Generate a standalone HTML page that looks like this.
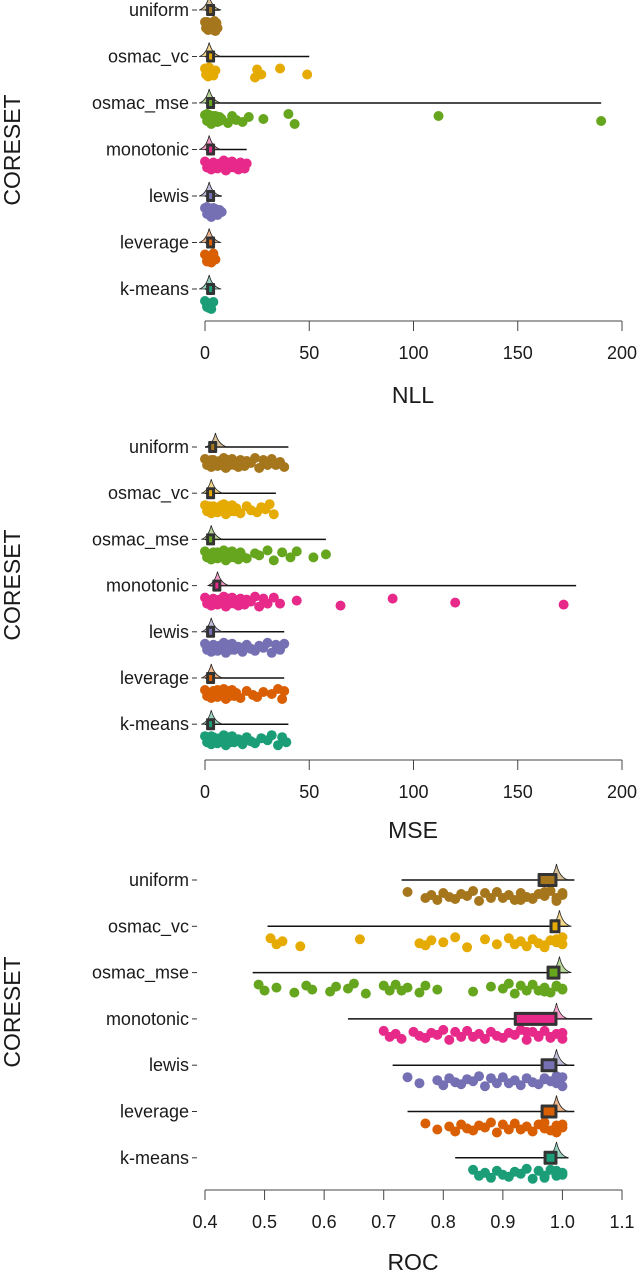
<!DOCTYPE html>
<html><head><meta charset="utf-8">
<style>
body{margin:0;background:#fff;}
svg{display:block;font-family:"Liberation Sans",Arial,sans-serif;}
</style></head>
<body>
<svg id="chart" width="640" height="1274" viewBox="0 0 640 1274"></svg>
<script>
const categories=["uniform","osmac_vc","osmac_mse","monotonic","lewis","leverage","k-means"];
const colors=["#a6761d","#e6ab02","#66a61e","#e7298a","#7570b3","#d95f02","#1b9e77"];
const nllTicks=[0,50,100,150,200];
const mseTicks=[0,50,100,150,200];
const rocTicks=[0.4,0.5,0.6,0.7,0.8,0.9,1.0,1.1];
const rocTickLabels=["0.4","0.5","0.6","0.7","0.8","0.9","1.0","1.1"];
// NLL points
const nllPts=[
 [0,0.5,1,1.5,2,2.5,3,3.5,4,4.5,5,5.5,6,1,2,3,4,0.5,1.5,2.5],
 [0,0.5,1,1.5,2,3,4,5,1,2,24,25,27,36,49],
 [0,1,2,3,4,5,6,7,8,1,3,5,7,2,4,6,11,13,15,18,21,28,40,43,112,190],
 [0,1,2,3,4,5,6,7,8,9,10,11,12,13,14,15,16,17,18,19,20],
 [0,1,2,3,4,5,6,7,8,1,3,5,2,4],
 [0,1,2,3,4,5,1,2,3,4],
 [0,1,2,3,4,1,2,3]];
const nllBox=[[0,1,2,7],[0,1,2,50],[0,1,2,190],[0,1,2,20],[0,1,2,8],[0,1,2,5],[0,1,2,4]];
// MSE points
const msePts=[
 [0,1,2,3,4,5,6,7,8,9,10,11,12,13,14,15,16,17,18,19,20,22,24,26,28,30,32,34,36,38,3,6,9],
 [0,1,2,3,4,5,6,7,8,9,10,11,12,13,14,15,17,20,22,25,27,29,31,33,2,5,8],
 [0,1,2,3,4,5,6,7,8,9,10,11,12,13,14,15,16,17,18,20,24,26,30,33,37,41,44,52,58,3,6],
 [0,1,2,3,4,5,6,7,8,9,10,11,12,13,14,15,16,17,18,19,20,22,24,26,28,30,33,36,44,65,90,120,172],
 [0,1,2,3,4,5,6,7,8,9,10,11,12,13,14,16,18,20,22,24,26,28,30,32,34,36,38,4,8],
 [0,1,2,3,4,5,6,7,8,9,10,11,12,13,14,15,17,20,23,25,28,32,35,37,38,3,6],
 [0,1,2,3,4,5,6,7,8,9,10,11,12,13,14,16,18,20,22,24,27,30,32,35,37,39,3,6]];
const mseBox=[[0,2,5,40],[0,1,3,34],[0,1,3,58],[2,4,6,178],[0,1,3,38],[0,1,3,38],[0,1,3,40]];
// ROC points
const rocPts=[
 [0.74,0.77,0.78,0.79,0.8,0.81,0.82,0.83,0.84,0.85,0.86,0.87,0.88,0.89,0.9,0.91,0.92,0.93,0.94,0.95,0.96,0.97,0.98,0.99,1.0,0.95,0.97,0.99,1.0,0.93],
 [0.51,0.52,0.53,0.56,0.66,0.76,0.77,0.78,0.8,0.82,0.84,0.87,0.89,0.91,0.92,0.93,0.94,0.95,0.96,0.97,0.98,0.99,1.0,0.97,0.99,1.0],
 [0.49,0.5,0.52,0.55,0.57,0.58,0.61,0.62,0.64,0.65,0.67,0.7,0.71,0.72,0.73,0.74,0.76,0.77,0.79,0.85,0.88,0.9,0.91,0.92,0.93,0.94,0.95,0.96,0.97,0.98,0.99,1.0,0.97,0.99,1.0],
 [0.7,0.71,0.72,0.73,0.75,0.76,0.77,0.78,0.79,0.8,0.81,0.82,0.83,0.84,0.85,0.86,0.87,0.88,0.89,0.9,0.91,0.92,0.93,0.94,0.95,0.96,0.97,0.98,0.99,1.0,0.94,0.96,0.98,1.0],
 [0.74,0.76,0.79,0.8,0.81,0.82,0.83,0.84,0.85,0.86,0.87,0.88,0.89,0.9,0.91,0.92,0.93,0.94,0.95,0.96,0.97,0.98,0.99,1.0,0.97,0.99,1.0],
 [0.77,0.79,0.81,0.82,0.83,0.84,0.85,0.86,0.87,0.88,0.89,0.9,0.91,0.92,0.93,0.94,0.95,0.96,0.97,0.98,0.99,1.0,0.97,0.99,1.0],
 [0.85,0.86,0.87,0.88,0.89,0.9,0.91,0.92,0.93,0.94,0.95,0.96,0.97,0.98,0.99,1.0,0.97,0.99,1.0]];
const rocBox=[[0.73,0.96,0.99,1.02],[0.505,0.98,0.995,1.01],[0.48,0.975,0.995,1.01],[0.64,0.92,0.99,1.05],[0.715,0.965,0.99,1.02],[0.74,0.965,0.99,1.02],[0.82,0.97,0.99,1.01]];

const NS="http://www.w3.org/2000/svg";
const svg=document.getElementById("chart");
function el(tag,attrs,parent){const e=document.createElementNS(NS,tag);for(const k in attrs)e.setAttribute(k,attrs[k]);(parent||svg).appendChild(e);return e;}
const jit=[-3,3,0,5,-2,2,4,-1,1,-4,6,-2,3];

function panel(opt){
 const g=el("g",{});
 
 
 const x=v=>205+(v-opt.min)/(opt.max-opt.min)*417;
 const rowY=i=>opt.top+i*opt.step;
 const yt=el("text",{x:0,y:0,transform:`translate(20,${opt.yTitleY}) rotate(-90)`,"text-anchor":"middle","font-size":"23",fill:"#1a1a1a"},g);
 yt.textContent="CORESET";
 
 
 categories.forEach((c,i)=>{
  const y=rowY(i);
  const t=el("text",{x:189,y:y+6,"text-anchor":"end","font-size":"18",fill:"#1a1a1a"},g);
  t.textContent=c;
  
  
  el("line",{x1:192,x2:197,y1:y,y2:y,stroke:"#333","stroke-width":1},g);
  const pg=el("g",{fill:colors[i]},g);
  
  
  opt.pts[i].forEach((v,k)=>{
   const d=el("circle",{cx:x(v),cy:y+15+jit[k%jit.length],r:5},pg);
   
   
  });
  const b=opt.box[i];
  const wl=el("line",{x1:x(b[0]),x2:x(b[3]),y1:y,y2:y,stroke:"#111","stroke-width":1.5},g);
  
  
  const dx=x(b[2]);
  el("path",{d:`M${dx-10},${y} Q${dx-3},${y-2} ${dx},${y-opt.violinH} Q${dx+3},${y-2} ${dx+12},${y} Z`,fill:colors[i],"fill-opacity":0.45,stroke:"#222","stroke-width":0.8},g);
  let bx1=x(b[1]),bx2=x(b[2]);
  if(bx2-bx1<7){bx2=bx1+7;}
  const h=opt.boxH;
  const br=el("rect",{x:bx1-1,y:y-h/2,width:bx2-bx1+2,height:h,fill:"#333",rx:1},g);
  
  
  el("rect",{x:bx1+2,y:y-h/2+3,width:Math.max(bx2-bx1-4,2),height:h-6,fill:colors[i]},g);
 });
 const ay=opt.axisY;
 el("line",{x1:205,x2:622,y1:ay,y2:ay,stroke:"#444","stroke-width":1},g);
 opt.ticks.forEach((v,k)=>{
  el("line",{x1:x(v),x2:x(v),y1:ay,y2:ay+10,stroke:"#444","stroke-width":1},g);
  const t=el("text",{x:x(v),y:ay+38,"text-anchor":"middle","font-size":"18",fill:"#1a1a1a"},g);
  t.textContent=opt.labels[k];
  
  
 });
 const xt=el("text",{x:413,y:opt.xTitleY,"text-anchor":"middle","font-size":"23",fill:"#1a1a1a"},g);
 xt.textContent=opt.name;
 
 
}
panel({name:"NLL",min:0,max:200,top:10,step:46.5,axisY:321,ticks:nllTicks,labels:nllTicks.map(String),xTitleY:403,yTitleY:150,pts:nllPts,box:nllBox,violinH:14,boxH:12});
panel({name:"MSE",min:0,max:200,top:447,step:46.2,axisY:760,ticks:mseTicks,labels:mseTicks.map(String),xTitleY:838,yTitleY:585,pts:msePts,box:mseBox,violinH:14,boxH:12});
panel({name:"ROC",min:0.4,max:1.1,top:880,step:46.3,axisY:1190,ticks:rocTicks,labels:rocTickLabels,xTitleY:1270,yTitleY:1012,pts:rocPts,box:rocBox,violinH:16,boxH:14});
</script>
</body></html>
